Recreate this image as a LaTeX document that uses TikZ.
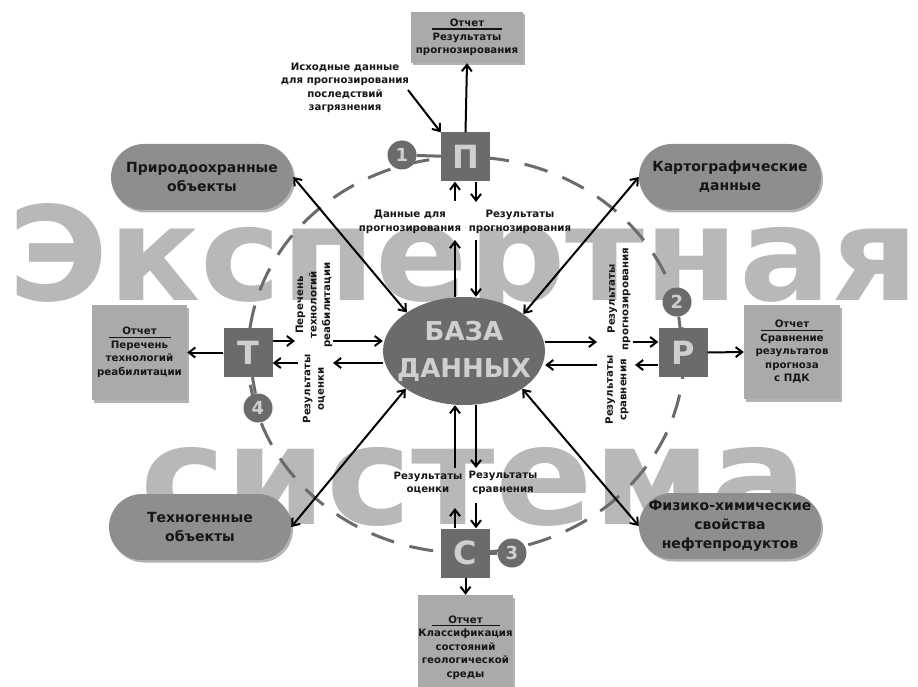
\documentclass[tikz,border=0pt]{standalone}
\usepackage{fontspec}
\setmainfont{DejaVu Sans}
\usepackage{graphicx}
\usetikzlibrary{shapes.geometric,arrows.meta,shadows}

\definecolor{wm}{HTML}{B8B8B8}
\definecolor{dark}{HTML}{6B6B6B}
\definecolor{pillc}{HTML}{8E8E8E}
\definecolor{repc}{HTML}{AAAAAA}
\definecolor{lettc}{HTML}{CFCFCF}
\definecolor{txt}{HTML}{161616}

\newcommand{\rephead}[1]{\makebox[#1]{\rlap{\raisebox{-3pt}{\rule{#1}{1.3pt}}}\hfill Отчет\hfill}}

\tikzset{
  arr/.style={line width=2pt, -{Straight Barb[length=6.5pt,width=10pt]}},
  darr/.style={line width=2pt, {Straight Barb[length=6.5pt,width=10pt]}-{Straight Barb[length=6.5pt,width=10pt]}},
  shad/.style={drop shadow={shadow xshift=2pt, shadow yshift=-2.5pt, opacity=0.3, fill=black}},
  pill/.style={fill=pillc, rounded corners=33pt, minimum width=182pt, minimum height=66pt,
    align=center, inner sep=0, font=\fontsize{14}{19}\selectfont\bfseries, text=txt, shad},
  report/.style={fill=repc, align=center, inner sep=0, font=\fontsize{10.2}{13.5}\selectfont\bfseries, text=txt, shad},
  sq/.style={fill=dark, minimum size=49pt, inner sep=0, font=\fontsize{32}{32}\selectfont\bfseries, text=lettc},
  num/.style={circle, fill=dark, minimum size=29pt, inner sep=0, font=\fontsize{18}{18}\selectfont\bfseries, text=lettc},
  lbl/.style={align=center, inner sep=0, font=\fontsize{10.2}{13.5}\selectfont\bfseries, text=txt},
  link/.style={line width=3pt, draw=dark},
  ring/.style={line width=3pt, draw=dark, dash pattern=on 24pt off 16pt}
}

\begin{document}
\begin{tikzpicture}[x=1pt,y=-1pt]
\fill[white] (0,0) rectangle (918,687);
\useasboundingbox (0,0) rectangle (918,687);

% watermark
\node[anchor=base west, inner sep=0, text=wm] (wm1) at (8,300) {\resizebox{910pt}{97pt}{\bfseries Экспертная}};
\node[anchor=base west, inner sep=0, text=wm] (wm2) at (140,524) {\resizebox{667pt}{77pt}{\bfseries система}};

% dashed ring
\draw[ring] (466,355) ellipse (218 and 198);

% squares and circles
\node[sq] (P1) at (465.5,157) {П};
\node[sq] (R) at (683,352.5) {Р};
\node[sq] (T) at (248,352.5) {Т};
\node[sq] (C) at (465.5,553) {С};
\node[num] (c1) at (402,155) {1};
\node[num] (c2) at (677,302) {2};
\node[num] (c3) at (512,553) {3};
\node[num] (c4) at (258,408) {4};
\draw[link] (c1) -- (P1);
\draw[link] (c2) -- (R);
\draw[link] (c3) -- (C);
\draw[link] (c4) -- (T);

% pills
\node[pill] (n1) at (202,177) {Природоохранные\\объекты};
\node[pill] (n2) at (730,177) {Картографические\\данные};
\node[pill] (n3) at (200,527) {Техногенные\\объекты};
\node[pill] (n4) at (730,526) {Физико-химические\\свойства\\нефтепродуктов};

% reports
\node[report, minimum width=112pt, minimum height=51pt] (rTop) at (467,37.5)
  {\rephead{70pt}\\Результаты\\прогнозирования};
\node[report, minimum width=95pt, minimum height=95pt] (rLeft) at (139.5,352.5)
  {\rephead{62pt}\\Перечень\\технологий\\реабилитации};
\node[report, minimum width=96pt, minimum height=94pt] (rRight) at (792,352)
  {\rephead{62pt}\\Сравнение\\результатов\\прогноза\\с ПДК};
\node[report, minimum width=95pt, minimum height=105pt] (rBot) at (465.5,647.5)
  {\rephead{68pt}\\Классификация\\состояний\\геологической\\среды};

% database
\node[ellipse, fill=dark, minimum width=162pt, minimum height=108pt, inner sep=0] (db) at (464,351) {};
\node[align=center, inner sep=0, text=lettc, font=\fontsize{26}{37}\selectfont\bfseries] (dbt) at (464,351) {БАЗА\\ДАННЫХ};

% labels
\node[lbl] (lsrc) at (345,88) {Исходные данные\\для прогнозирования\\последствий\\загрязнения};
\node[lbl] (ltop1) at (410,222) {Данные для\\прогнозирования};
\node[lbl] (ltop2) at (520,222) {Результаты\\прогнозирования};
\node[lbl] (lbot1) at (428,483) {Результаты\\оценки};
\node[lbl] (lbot2) at (503,483) {Результаты\\сравнения};
\node[lbl, rotate=90] (lleft1) at (314,305) {Перечень\\технологий\\реабилитации};
\node[lbl, rotate=90] (lleft2) at (314,389) {Результаты\\оценки};
\node[lbl, rotate=90] (lright1) at (619,299) {Результаты\\прогнозирования};
\node[lbl, rotate=90] (lright2) at (617,390) {Результаты\\сравнения};

% free ends
\coordinate (src) at (408,90);
\coordinate (tu) at (455,240);
\coordinate (td) at (476,240);
\coordinate (pu) at (455,201);
\coordinate (pd) at (476,202);
\coordinate (bu) at (455,468);
\coordinate (bd) at (476,468);
\coordinate (cu) at (455,508);
\coordinate (cd) at (476,503);
\coordinate (l1a) at (295,341);
\coordinate (l1b) at (333,341);
\coordinate (l2a) at (298,363);
\coordinate (l2b) at (333,363);
\coordinate (r1a) at (597,342);
\coordinate (r1b) at (633,342);
\coordinate (r2a) at (597,365);
\coordinate (r2b) at (635,365);

% arrows top
\draw[arr] (src) -- (P1.north west);
\draw[arr] (P1.north) -- (rTop.south);
\draw[arr] (pu) -- (P1.south -| pu);
\draw[arr] (P1.south -| pd) -- (pd);
\draw[arr] (db.north -| tu) -- (tu);
\draw[arr] (td) -- (db.north -| td);
% arrows bottom
\draw[arr] (bu) -- (db.south -| bu);
\draw[arr] (db.south -| bd) -- (bd);
\draw[arr] (C.north -| cu) -- (cu);
\draw[arr] (cd) -- (C.north -| cd);
\draw[arr] (C.south) -- (rBot.north);
% arrows left
\draw[arr] (T.east |- l1a) -- (l1a);
\draw[arr] (l1b) -- (db.west |- l1b);
\draw[arr] (l2a) -- (T.east |- l2a);
\draw[arr] (db.west |- l2b) -- (l2b);
\draw[arr] (T.west) -- (rLeft.east);
% arrows right
\draw[arr] (db.east |- r1a) -- (r1a);
\draw[arr] (r1b) -- (R.west |- r1b);
\draw[arr] (r2a) -- (db.east |- r2a);
\draw[arr] (R.west |- r2b) -- (r2b);
\draw[arr] (R.east) -- (rRight.west);
% diagonals
\draw[darr] (n1.east) -- (db.146);
\draw[darr] (n2.west) -- (db.32);
\draw[darr] (n3.east) -- (db.213);
\draw[darr] (n4.west) -- (db.327);
\end{tikzpicture}
\end{document}
